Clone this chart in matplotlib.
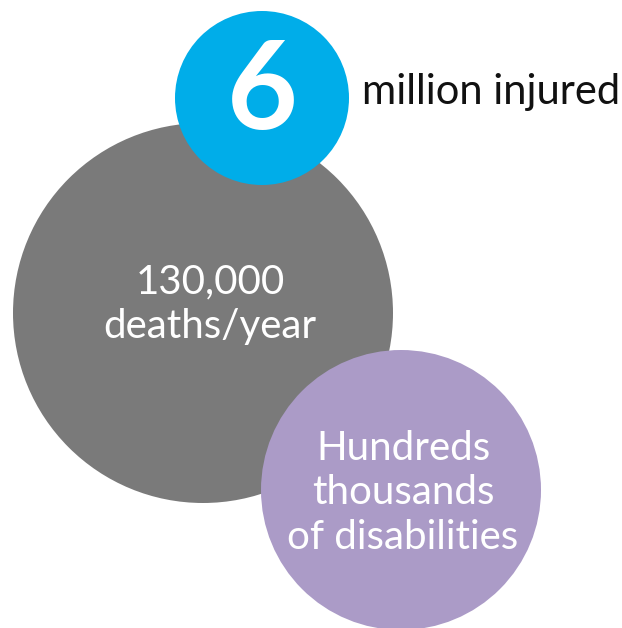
import matplotlib.pyplot as plt
from matplotlib.patches import Circle

# circle data (pixel coordinates of the original graphic)
labels = ["6", "130,000\ndeaths/year", "Hundreds\nthousands\nof disabilities"]
centers_x = [262, 203, 401]
centers_y = [98, 313, 490]
radii = [87, 190, 140]
colors = ["#00ade9", "#7a7a7a", "#ab9bc7"]
side_label = "million injured"

plt.rcParams["font.family"] = ["Lato", "DejaVu Sans"]

fig = plt.figure(figsize=(6.22, 6.28), dpi=100)
ax = fig.add_axes([0, 0, 1, 1])
ax.set_xlim(0, 622)
ax.set_ylim(628, 0)
ax.set_aspect("equal")
ax.axis("off")

# draw gray first, then blue and purple on top
for i in [1, 0, 2]:
    ax.add_patch(Circle((centers_x[i], centers_y[i]), radii[i], color=colors[i], lw=0))

ax.text(centers_x[0], centers_y[0] - 4, labels[0], color="white", fontsize=88,
        fontweight="bold", ha="center", va="center")
ax.text(362, 92, side_label, color="#111111", fontsize=30, ha="left", va="center")
ax.text(centers_x[1] + 7, 304, labels[1], color="white", fontsize=29,
        ha="center", va="center", linespacing=1.25)
ax.text(centers_x[2] + 2, 493, labels[2], color="white", fontsize=29,
        ha="center", va="center", linespacing=1.25)

fig.savefig("out.png", dpi=100)
